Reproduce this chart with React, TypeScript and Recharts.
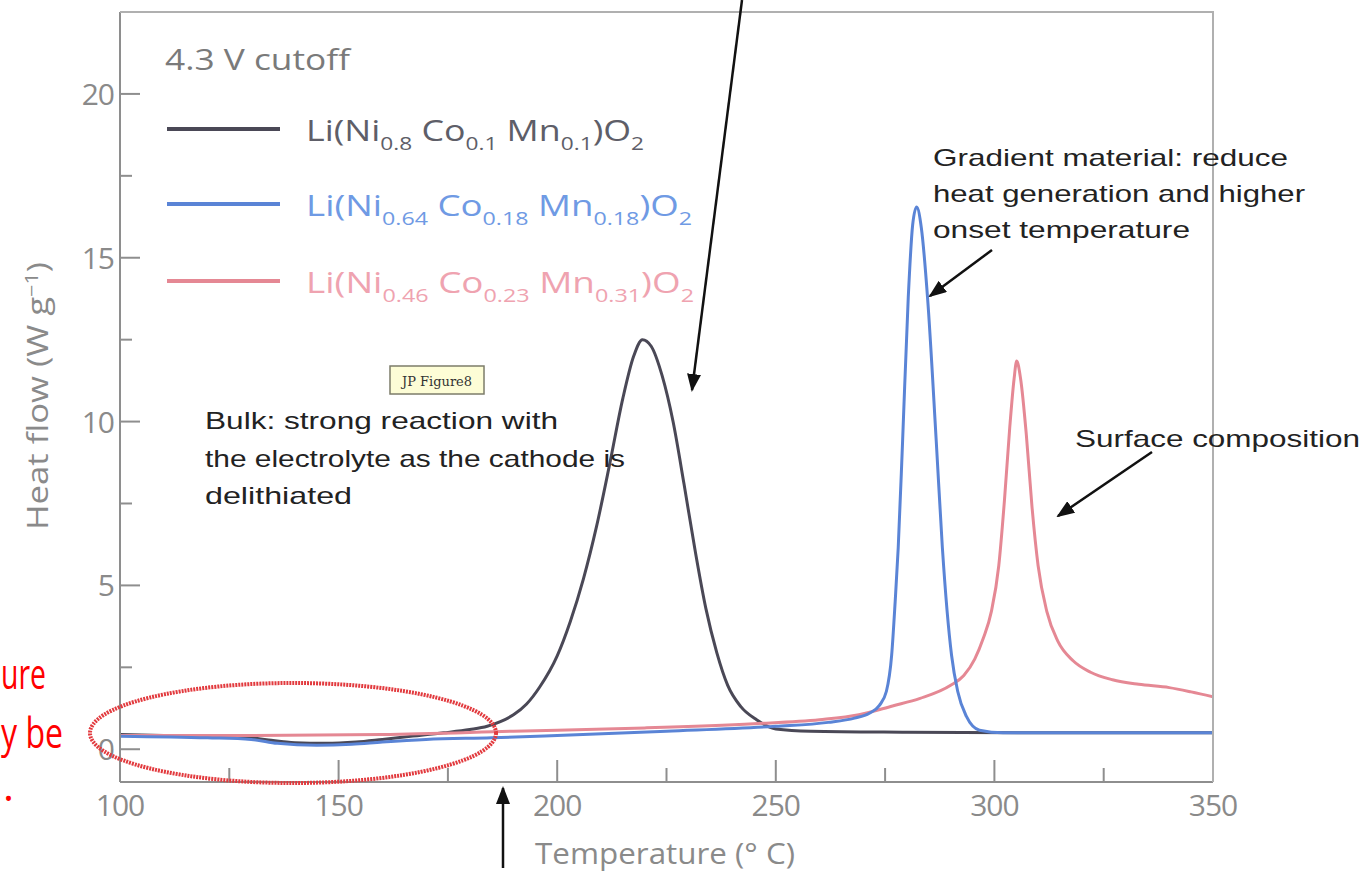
import React from "react";
import { LineChart, Line, XAxis, YAxis } from "recharts";

// heat flow (W/g) vs temperature (°C)
const ni08: number[][] = [
  [100, 0.45], [110, 0.42], [120, 0.4], [128, 0.38], [134, 0.28], [140, 0.2],
  [147, 0.18], [154, 0.22], [160, 0.3], [167, 0.4], [174, 0.5], [180, 0.6],
  [184, 0.7], [187, 0.84], [190, 1.05], [193, 1.38], [196, 1.9], [200, 2.85],
  [203, 3.9], [206, 5.2], [209, 6.8], [212, 8.7], [215, 10.7], [217.5, 12.0],
  [219.5, 12.5], [221.5, 12.3], [224, 11.4], [226.5, 10.0], [229, 8.1], [231.5, 6.1],
  [234, 4.3], [236.5, 2.95], [239, 1.95], [242, 1.3], [245.6, 0.9], [250, 0.62],
  [258, 0.55], [280, 0.52], [310, 0.5], [350, 0.5],
];

const ni064: number[][] = [
  [100, 0.4], [120, 0.35], [130, 0.3], [136, 0.18], [145, 0.12], [153, 0.15],
  [160, 0.22], [170, 0.3], [185, 0.35], [200, 0.42], [225, 0.55], [250, 0.7],
  [262, 0.82], [268, 0.95], [271.4, 1.1], [273.7, 1.34], [275.3, 1.77], [276.5, 2.87],
  [277.3, 4.5], [278, 6.15], [279, 9.4], [280.3, 13.8], [281.3, 16.0], [282.2, 16.55],
  [283.3, 15.9], [284.7, 13.8], [286.7, 9.4], [288.1, 6.15], [290.2, 2.87],
  [291.6, 1.77], [293.6, 1.0], [296.6, 0.58], [302, 0.5], [320, 0.5], [350, 0.5],
];

const ni046: number[][] = [
  [100, 0.42], [130, 0.42], [160, 0.45], [190, 0.55], [220, 0.65], [245, 0.78],
  [260, 0.9], [269, 1.05], [276.7, 1.32], [283, 1.55], [290, 1.95], [293, 2.25],
  [295.5, 2.75], [297.5, 3.4], [299.3, 4.2], [301, 5.6], [302.3, 7.6], [303.5, 9.8],
  [304.5, 11.3], [305.1, 11.85], [306, 11.3], [307.3, 9.6], [308.6, 7.4], [310, 5.6],
  [312, 4.2], [314.5, 3.3], [318, 2.7], [322, 2.35], [327, 2.12], [333, 1.98],
  [340, 1.88], [345, 1.75], [350, 1.6],
];

const xTicks = [100, 125, 150, 175, 200, 225, 250, 275, 300, 325, 350];
const yTicks = [0, 2.5, 5, 7.5, 10, 12.5, 15, 17.5, 20];

const colors = { ni08: "#4a4856", ni064: "#5a84d6", ni046: "#e58894" };

const pts = (rows: number[][]) => rows.map(([t, v]) => ({ t, v }));

const tickFont = "'Open Sans', sans-serif";
const noteFont = "'Liberation Sans', Arial, sans-serif";

function XTick({ x, y, payload }: any) {
  const major = payload.value % 50 === 0;
  return (
    <g>
      <line x1={x} x2={x} y1={y} y2={y - (major ? 22 : 14)} stroke="#8e8e8e" strokeWidth={2} />
      {major && (
        <text x={x} y={y + 34} textAnchor="middle" fontFamily={tickFont} fontSize={30} fill="#8a8a8a" letterSpacing={-1}>
          {payload.value}
        </text>
      )}
    </g>
  );
}

function YTick({ x, y, payload }: any) {
  const major = payload.value % 5 === 0;
  return (
    <g>
      <line x1={x} x2={x + (major ? 20 : 12)} y1={y} y2={y} stroke="#8e8e8e" strokeWidth={2} />
      {major && (
        <text x={x - 6} y={y + 11} textAnchor="end" fontFamily={tickFont} fontSize={30} fill="#8a8a8a" letterSpacing={-1}>
          {payload.value}
        </text>
      )}
    </g>
  );
}

function Formula({ x, y, parts, fill, len }: { x: number; y: number; parts: string[]; fill: string; len: number }) {
  // parts alternate: normal, subscript, normal, subscript...
  return (
    <text x={x} y={y} fontFamily={tickFont} fontSize={30} fill={fill} textLength={len} lengthAdjust="spacingAndGlyphs">
      {parts.map((p, i) =>
        i % 2 === 0 ? (
          <tspan key={i} dy={i === 0 ? 0 : -9}>{p}</tspan>
        ) : (
          <tspan key={i} dy={9} fontSize={19}>{p}</tspan>
        )
      )}
    </text>
  );
}

function Arrow({ x1, y1, x2, y2 }: { x1: number; y1: number; x2: number; y2: number }) {
  return <line x1={x1} y1={y1} x2={x2} y2={y2} stroke="#111" strokeWidth={2.5} markerEnd="url(#head)" />;
}

function Overlay() {
  return (
    <svg width={1369} height={872} style={{ position: "absolute", left: 0, top: 0, pointerEvents: "none" }}>
      <defs>
        <marker id="head" markerUnits="userSpaceOnUse" markerWidth={18} markerHeight={14} refX={16} refY={7} orient="auto">
          <path d="M0,0 L18,7 L0,14 Z" fill="#111" />
        </marker>
      </defs>
      <polyline points="120,12 1213,12 1213,782" fill="none" stroke="#b0b0b0" strokeWidth={2} />

      <text transform="translate(48 396) rotate(-90)" textAnchor="middle" fontFamily={tickFont} fontSize={29} fill="#8a8a8a" textLength={268} lengthAdjust="spacingAndGlyphs">
        Heat flow (W g<tspan dy={-10} fontSize={18}>−1</tspan><tspan dy={10}>)</tspan>
      </text>
      <text x={535} y={864} fontFamily={tickFont} fontSize={29} fill="#8a8a8a" textLength={260} lengthAdjust="spacingAndGlyphs">
        Temperature (° C)
      </text>

      <text x={165} y={70} fontFamily={tickFont} fontSize={29} fill="#7a7a7a" textLength={185} lengthAdjust="spacingAndGlyphs">4.3 V cutoff</text>
      <line x1={167} x2={280} y1={129} y2={129} stroke={colors.ni08} strokeWidth={4} />
      <line x1={167} x2={280} y1={204} y2={204} stroke={colors.ni064} strokeWidth={4} />
      <line x1={167} x2={280} y1={281} y2={281} stroke={colors.ni046} strokeWidth={4} />
      <Formula x={306} y={141} len={338} fill="#5e5e68" parts={["Li(Ni", "0.8", " Co", "0.1", " Mn", "0.1", ")O", "2"]} />
      <Formula x={306} y={216} len={386} fill="#6f9ae4" parts={["Li(Ni", "0.64", " Co", "0.18", " Mn", "0.18", ")O", "2"]} />
      <Formula x={306} y={293} len={388} fill="#efa3b0" parts={["Li(Ni", "0.46", " Co", "0.23", " Mn", "0.31", ")O", "2"]} />

      <g fontFamily={noteFont} fontSize={24} fill="#222">
        <text x={933} y={166} textLength={355} lengthAdjust="spacingAndGlyphs">Gradient material: reduce</text>
        <text x={933} y={202} textLength={372} lengthAdjust="spacingAndGlyphs">heat generation and higher</text>
        <text x={933} y={238} textLength={257} lengthAdjust="spacingAndGlyphs">onset temperature</text>
        <text x={205} y={429} textLength={353} lengthAdjust="spacingAndGlyphs">Bulk: strong reaction with</text>
        <text x={205} y={467} textLength={420} lengthAdjust="spacingAndGlyphs">the electrolyte as the cathode is</text>
        <text x={205} y={504} textLength={147} lengthAdjust="spacingAndGlyphs">delithiated</text>
        <text x={1075} y={447} textLength={285} lengthAdjust="spacingAndGlyphs">Surface composition</text>
      </g>

      <rect x={390} y={366} width={94} height={28} fill="#fdfdd6" stroke="#7c7c6a" strokeWidth={1.5} />
      <text x={437} y={386} textAnchor="middle" fontFamily="'DejaVu Serif', serif" fontSize={13} fill="#333">JP Figure8</text>

      <Arrow x1={742} y1={0} x2={692} y2={390} />
      <Arrow x1={992} y1={250} x2={930} y2={296} />
      <Arrow x1={1152} y1={452} x2={1058} y2={516} />
      <Arrow x1={503} y1={868} x2={503} y2={788} />

      <ellipse cx={293} cy={733} rx={203} ry={50} fill="none" stroke="#e23a3e" strokeWidth={4} strokeDasharray="2 1" />

      <g fontFamily="'Open Sans', sans-serif" fontSize={42} fill="#ff0000">
        <text x={1} y={689} textLength={45} lengthAdjust="spacingAndGlyphs">ure</text>
        <text x={1} y={748} textLength={62} lengthAdjust="spacingAndGlyphs">y be</text>
        <text x={3} y={801}>.</text>
      </g>
    </svg>
  );
}

export default function App() {
  return (
    <div style={{ position: "absolute", left: 0, top: 0, width: 1369, height: 872, background: "#fff" }}>
      <LineChart width={1369} height={872} margin={{ top: 12, right: 156, bottom: 0, left: 0 }}>
        <XAxis
          dataKey="t"
          type="number"
          domain={[100, 350]}
          ticks={xTicks}
          allowDataOverflow
          height={90}
          tickSize={0}
          tickMargin={0}
          tickLine={false}
          axisLine={{ stroke: "#8e8e8e", strokeWidth: 2 }}
          tick={<XTick />}
          interval={0}
        />
        <YAxis
          type="number"
          domain={[-1, 22.5]}
          ticks={yTicks}
          allowDataOverflow
          width={120}
          tickSize={0}
          tickMargin={0}
          tickLine={false}
          axisLine={{ stroke: "#8e8e8e", strokeWidth: 2 }}
          tick={<YTick />}
          interval={0}
        />
        <Line data={pts(ni08)} dataKey="v" type="monotone" stroke={colors.ni08} strokeWidth={3} dot={false} isAnimationActive={false} />
        <Line data={pts(ni046)} dataKey="v" type="monotone" stroke={colors.ni046} strokeWidth={3} dot={false} isAnimationActive={false} />
        <Line data={pts(ni064)} dataKey="v" type="monotone" stroke={colors.ni064} strokeWidth={3} dot={false} isAnimationActive={false} />
      </LineChart>
      <Overlay />
    </div>
  );
}
